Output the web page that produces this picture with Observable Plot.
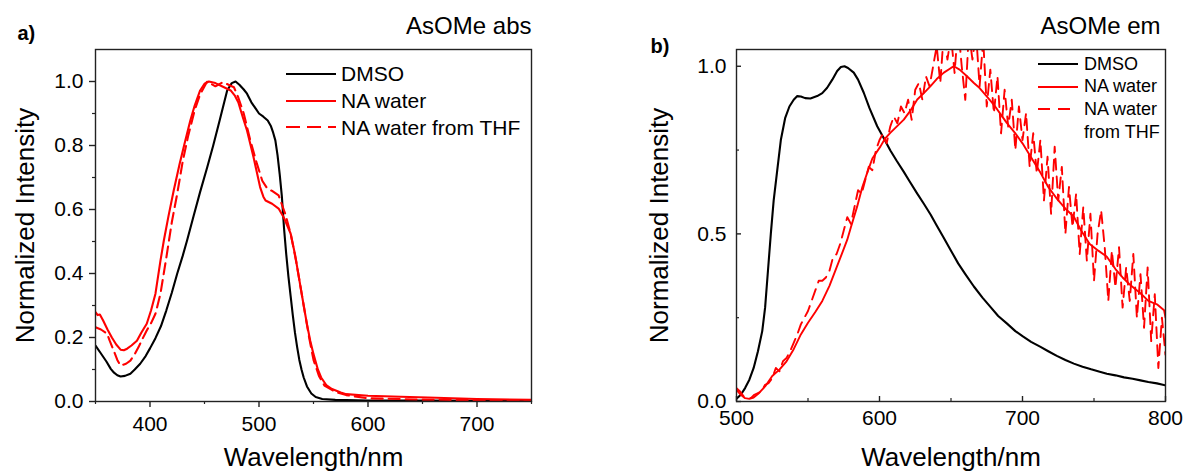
<!DOCTYPE html>
<html><head><meta charset="utf-8">
<script src="https://cdn.jsdelivr.net/npm/d3@7"></script>
<script src="https://cdn.jsdelivr.net/npm/@observablehq/plot@0.6"></script>
<style>
html,body{margin:0;padding:0;background:#fff;}
#root{position:relative;width:1184px;height:474px;overflow:hidden;font-family:Arial,"Liberation Sans",sans-serif;background:#fff;}
.panel{position:absolute;top:0;}
.lg{position:absolute;font-family:Arial,"Liberation Sans",sans-serif;color:#000;white-space:nowrap;}
</style></head><body><div id="root"></div>
<script>
// ---------- Panel a: absorption ----------
const absDMSO = [[350,0.175],[355,0.15],[360,0.125],[364,0.102],[367,0.09],[370,0.082],[373,0.078],[377,0.08],[382,0.087],[386,0.1],[391,0.118],[396,0.142],[400,0.166],[405,0.198],[410,0.235],[415,0.285],[420,0.34],[425,0.4],[430,0.455],[434,0.503],[440,0.58],[446,0.655],[452.5,0.732],[458,0.8],[464,0.88],[470.8,0.972],[475,0.995],[478.5,1.0],[482,0.99],[486,0.975],[489,0.962],[493,0.935],[497,0.915],[500,0.9],[504,0.89],[508,0.878],[511,0.86],[513,0.84],[515,0.816],[517,0.77],[519,0.71],[521,0.64],[523,0.54],[525,0.46],[527,0.39],[529,0.33],[531,0.27],[533,0.215],[535,0.17],[537,0.13],[539,0.1],[541,0.075],[544,0.047],[548,0.025],[552,0.014],[558,0.008],[570,0.005],[600,0.003],[650,0.003],[700,0.002],[750,0.002]];
const absNA = [[350,0.279],[352,0.27],[354,0.272],[357,0.253],[361,0.225],[365,0.2],[369,0.178],[373,0.162],[376,0.16],[379,0.165],[383,0.175],[388,0.19],[392,0.215],[397,0.243],[401,0.285],[405,0.337],[409.6,0.44],[412.7,0.503],[417,0.58],[421.8,0.66],[427,0.74],[432,0.81],[437,0.878],[441,0.925],[446,0.972],[450,0.993],[454,1.0],[460,0.995],[466,0.985],[474,0.972],[478,0.955],[481,0.935],[485,0.89],[489,0.847],[495,0.763],[501,0.67],[504,0.64],[506,0.628],[512,0.618],[518,0.603],[522.6,0.576],[529,0.525],[533,0.46],[537,0.38],[541,0.3],[544,0.242],[547,0.19],[550,0.148],[554,0.1],[557,0.075],[562,0.05],[567,0.039],[575,0.028],[580,0.023],[600,0.018],[630,0.015],[655,0.0125],[700,0.008],[750,0.005]];
const absTHF = [[350,0.232],[355,0.225],[360.7,0.212],[363,0.19],[366.6,0.16],[370,0.13],[373,0.112],[378,0.118],[382,0.128],[386,0.148],[389.5,0.17],[393,0.195],[397,0.222],[401,0.245],[405,0.274],[409.6,0.337],[415,0.45],[420,0.56],[425,0.65],[430,0.75],[435,0.83],[441,0.91],[446,0.96],[452.4,1.0],[460,0.985],[467,0.998],[472,0.99],[477,0.982],[481,0.95],[486,0.9],[492,0.816],[498,0.744],[503,0.69],[507.5,0.666],[512,0.658],[518,0.644],[524,0.587],[529,0.525],[534,0.44],[538,0.36],[542,0.28],[546,0.2],[550,0.13],[555,0.08],[560,0.05],[570,0.03],[580,0.02],[600,0.01],[650,0.006],[700,0.004],[750,0.003]];
const absXDomain = [350, 750];
const absYDomain = [0, 1.1];
const absXMajor = [400, 500, 600, 700];
const absXMinor = [350, 450, 550, 650, 750];
const absYMajor = [0, 0.2, 0.4, 0.6, 0.8, 1.0];
const absYMinor = [0.1, 0.3, 0.5, 0.7, 0.9];

// ---------- Panel b: emission ----------
const emDMSO = [[500,0.008],[503,0.02],[506,0.04],[509,0.065],[512,0.1],[515,0.15],[518,0.21],[520,0.28],[522,0.39],[524,0.5],[526,0.6],[528.5,0.69],[531,0.78],[534,0.845],[537,0.88],[540,0.9],[542.5,0.911],[545,0.91],[548,0.905],[551.7,0.904],[556.4,0.911],[560,0.92],[563.4,0.936],[567,0.96],[570.4,0.986],[573,0.998],[575.5,1.0],[578,0.995],[582,0.981],[585,0.96],[589,0.921],[593,0.875],[598.4,0.821],[603,0.785],[607.7,0.748],[612,0.718],[617,0.685],[621,0.657],[626.4,0.62],[631,0.59],[635.7,0.558],[640,0.525],[645,0.488],[650,0.45],[655,0.412],[660,0.38],[666,0.343],[672,0.31],[678,0.28],[683,0.255],[689,0.233],[695,0.21],[700,0.195],[706,0.178],[712.6,0.163],[718,0.15],[724,0.136],[730,0.124],[735.9,0.113],[742,0.104],[748,0.096],[754,0.089],[759,0.083],[765,0.078],[771,0.072],[777,0.068],[782.5,0.063],[788,0.058],[794,0.054],[800,0.048]];
const emNA = [[500,0.035],[503,0.02],[506,0.01],[509,0.008],[512,0.012],[515,0.022],[520,0.045],[525,0.076],[530,0.095],[535,0.12],[540,0.156],[545,0.2],[550,0.235],[555,0.266],[560,0.3],[565,0.345],[570,0.4],[575,0.455],[577.4,0.482],[580,0.52],[584.4,0.582],[588,0.64],[591.4,0.682],[595,0.725],[600.7,0.761],[604,0.785],[607.7,0.802],[612,0.82],[617,0.841],[622,0.87],[626.4,0.901],[631,0.92],[635.7,0.941],[640,0.962],[645,0.981],[650,0.995],[652,1.0],[656,0.99],[661,0.971],[666,0.95],[670,0.935],[675,0.91],[680,0.885],[685,0.855],[689,0.831],[695,0.8],[700,0.77],[705,0.735],[712.6,0.682],[718,0.64],[724,0.605],[730,0.575],[735.8,0.552],[741,0.51],[747,0.47],[753,0.45],[759,0.432],[765,0.395],[770,0.37],[776,0.345],[782.5,0.323],[788,0.3],[794,0.29],[799,0.272],[800,0.25]];
const emTHF = [[500,0.04],[502.5,0.03],[505,0.015],[507.5,0.012],[510,0.01],[512.5,0.02],[515,0.025],[517.5,0.03],[520,0.05],[522.5,0.055],[525,0.07],[527.5,0.1],[530,0.09],[532.5,0.12],[535,0.13],[537.5,0.15],[540,0.175],[542.5,0.2],[545,0.23],[547.5,0.25],[550,0.27],[552.5,0.3],[555,0.33],[557.5,0.36],[560,0.36],[562.5,0.37],[565,0.39],[567.5,0.43],[570,0.44],[572.5,0.47],[575,0.51],[577.5,0.55],[580,0.53],[582.5,0.58],[585,0.63],[587.5,0.62],[590,0.66],[592.5,0.7],[595,0.69],[597.5,0.75],[600,0.78],[602.5,0.8],[605,0.77],[607.5,0.82],[610,0.85],[612.5,0.83],[615,0.88],[617.5,0.86],[620,0.9],[622.5,0.84],[625,0.93],[627.5,0.95],[630,0.9],[632.5,0.97],[635,0.94],[637.5,1.0],[640,1.06],[642.5,0.95],[645,1.1],[647.5,1.02],[650,1.09],[652.5,0.98],[655,1.12],[657.5,1.0],[660,0.9],[662.5,1.1],[665,1.02],[667.5,1.1],[670,0.94],[672.5,1.08],[675,0.88],[677.5,0.99],[680,0.86],[682.5,0.97],[685,0.8],[687.5,0.93],[690,0.82],[692.5,0.9],[695,0.75],[697.5,0.88],[700,0.78],[702.5,0.86],[705,0.7],[707.5,0.8],[710,0.68],[712.5,0.78],[715,0.6],[717.5,0.73],[720,0.56],[722.5,0.76],[725,0.6],[727.5,0.7],[730,0.5],[732.5,0.64],[735,0.52],[737.5,0.62],[740,0.44],[742.5,0.58],[745,0.42],[747.5,0.56],[750,0.36],[752.5,0.5],[755,0.57],[757.5,0.46],[760,0.3],[762.5,0.45],[765,0.34],[767.5,0.46],[770,0.28],[772.5,0.4],[775,0.3],[777.5,0.44],[780,0.25],[782.5,0.38],[785,0.22],[787.5,0.4],[790,0.18],[792.5,0.32],[795,0.1],[797.5,0.25],[800,0.14]];
const emXDomain = [500, 800];
const emYDomain = [0, 1.05];
const emXMajor = [500, 600, 700, 800];
const emXMinor = [550, 650, 750];
const emYMajor = [0, 0.5, 1.0];
const emYMinor = [0.25, 0.75];

// ---------- text ----------
const seriesNames = ["DMSO", "NA water", "NA water from THF"];
const seriesColors = ["#000000", "#ff0000", "#ff0000"];
const seriesDash = [null, null, "11,6"];
const xLabel = "Wavelength/nm";
const yLabel = "Normalized Intensity";
const titles = ["AsOMe abs", "AsOMe em"];
const panelTags = ["a)", "b)"];

const FONT = 'Arial, "Liberation Sans", sans-serif';
const X = d => d[0], Y = d => d[1];
const root = document.getElementById("root");

function lineMarks(sets, dash, widths) {
  return sets.map((s, i) => Plot.line(s, {x: X, y: Y, stroke: seriesColors[i], strokeWidth: widths[i],
    strokeDasharray: i === 2 ? dash : null, clip: true, curve: "linear"}));
}

const plotA = Plot.plot({
  width: 600, height: 474,
  marginLeft: 95, marginRight: 69, marginTop: 49, marginBottom: 73,
  style: {fontFamily: FONT, color: "#000", background: "transparent"},
  x: {domain: absXDomain},
  y: {domain: absYDomain},
  marks: [
    ...lineMarks([absDMSO, absNA, absTHF], "11,6", [2.1, 2.1, 2.1]),
    Plot.frame({stroke: "#222", strokeWidth: 1.4}),
    Plot.axisX(absXMajor, {tickSize: 6, tickPadding: 9, fontSize: 21, stroke: "#222", strokeWidth: 1.4, tickFormat: d3.format("d"), label: null}),
    Plot.axisX(absXMinor, {tickSize: 3, text: null, stroke: "#222", strokeWidth: 1.2, label: null}),
    Plot.axisY(absYMajor, {tickSize: 6, tickPadding: 6, fontSize: 21, stroke: "#222", strokeWidth: 1.4, tickFormat: d3.format(".1f"), label: null}),
    Plot.axisY(absYMinor, {tickSize: 3, text: null, stroke: "#222", strokeWidth: 1.2, label: null}),
    Plot.text([xLabel], {text: d => d, frameAnchor: "bottom", textAnchor: "middle", dy: 56, fontSize: 26, lineAnchor: "middle"}),
    Plot.text([yLabel], {text: d => d, frameAnchor: "left", textAnchor: "middle", lineAnchor: "middle", dx: -70, rotate: -90, fontSize: 26}),
    Plot.text([titles[0]], {text: d => d, frameAnchor: "top-right", textAnchor: "end", lineAnchor: "bottom", dy: -16, fontSize: 24}),
    Plot.text([panelTags[0]], {text: d => d, frameAnchor: "top-left", textAnchor: "start", lineAnchor: "bottom", dx: -78, dy: -10, fontSize: 20, fontWeight: "bold"})
  ]
});
plotA.classList.add("panel");
plotA.style.left = "0px";
root.appendChild(plotA);

const plotB = Plot.plot({
  width: 584, height: 474,
  marginLeft: 136, marginRight: 19, marginTop: 49, marginBottom: 73,
  style: {fontFamily: FONT, color: "#000", background: "transparent"},
  x: {domain: emXDomain},
  y: {domain: emYDomain},
  marks: [
    ...lineMarks([emDMSO, emNA, emTHF], "11,7", [2.1, 1.9, 1.9]),
    Plot.frame({stroke: "#222", strokeWidth: 1.4}),
    Plot.axisX(emXMajor, {tickSize: 0, tickPadding: 9, fontSize: 21, tickFormat: d3.format("d"), label: null}),
    Plot.axisX(emXMajor, {tickSize: -5, text: null, stroke: "#222", strokeWidth: 1.4, label: null}),
    Plot.axisX(emXMinor, {tickSize: -3, text: null, stroke: "#222", strokeWidth: 1.2, label: null}),
    Plot.axisY(emYMajor, {tickSize: 0, tickPadding: 10, fontSize: 21, tickFormat: d3.format(".1f"), label: null}),
    Plot.axisY(emYMajor, {tickSize: -5, text: null, stroke: "#222", strokeWidth: 1.4, label: null}),
    Plot.axisY(emYMinor, {tickSize: -3, text: null, stroke: "#222", strokeWidth: 1.2, label: null}),
    Plot.text([xLabel], {text: d => d, frameAnchor: "bottom", textAnchor: "middle", dy: 56, fontSize: 26, lineAnchor: "middle"}),
    Plot.text([yLabel], {text: d => d, frameAnchor: "left", textAnchor: "middle", lineAnchor: "middle", dx: -77, rotate: -90, fontSize: 26}),
    Plot.text([titles[1]], {text: d => d, frameAnchor: "top-right", textAnchor: "end", lineAnchor: "bottom", dx: -5, dy: -16, fontSize: 24}),
    Plot.text([panelTags[1]], {text: d => d, frameAnchor: "top-left", textAnchor: "start", lineAnchor: "bottom", dx: -86, dy: 3, fontSize: 20, fontWeight: "bold"})
  ]
});
plotB.classList.add("panel");
plotB.style.left = "600px";
root.appendChild(plotB);

// ---------- legends (HTML overlay) ----------
function legend(cfg) {
  cfg.rows.forEach((yc, i) => {
    const svg = document.createElementNS("http://www.w3.org/2000/svg", "svg");
    svg.setAttribute("width", cfg.lineLen + 4);
    svg.setAttribute("height", 8);
    svg.style.position = "absolute";
    svg.style.left = (cfg.lineX - 2) + "px";
    svg.style.top = (yc - 4) + "px";
    const ln = document.createElementNS("http://www.w3.org/2000/svg", "line");
    ln.setAttribute("x1", 2); ln.setAttribute("x2", cfg.lineLen + 2);
    ln.setAttribute("y1", 4); ln.setAttribute("y2", 4);
    ln.setAttribute("stroke", seriesColors[i]);
    ln.setAttribute("stroke-width", 2.2);
    if (seriesDash[i]) ln.setAttribute("stroke-dasharray", cfg.dash);
    svg.appendChild(ln);
    root.appendChild(svg);
    const t = document.createElement("div");
    t.className = "lg";
    t.style.left = cfg.textX + "px";
    t.style.top = (yc - cfg.fontSize * cfg.lh / 2) + "px";
    t.style.fontSize = cfg.fontSize + "px";
    t.style.lineHeight = (cfg.fontSize * cfg.lh) + "px";
    if (cfg.wrap && i === 2) {
      t.innerHTML = "NA water<br>from THF";
    } else {
      t.textContent = seriesNames[i];
    }
    root.appendChild(t);
  });
}
legend({rows: [74, 100.7, 127.3], lineX: 286, lineLen: 50, textX: 341, fontSize: 21, lh: 1.2, dash: "14,7"});
legend({rows: [64, 86.7, 109.3], lineX: 1038, lineLen: 40, textX: 1084, fontSize: 18, lh: 1.26, dash: "12,8", wrap: true});
</script></body></html>
